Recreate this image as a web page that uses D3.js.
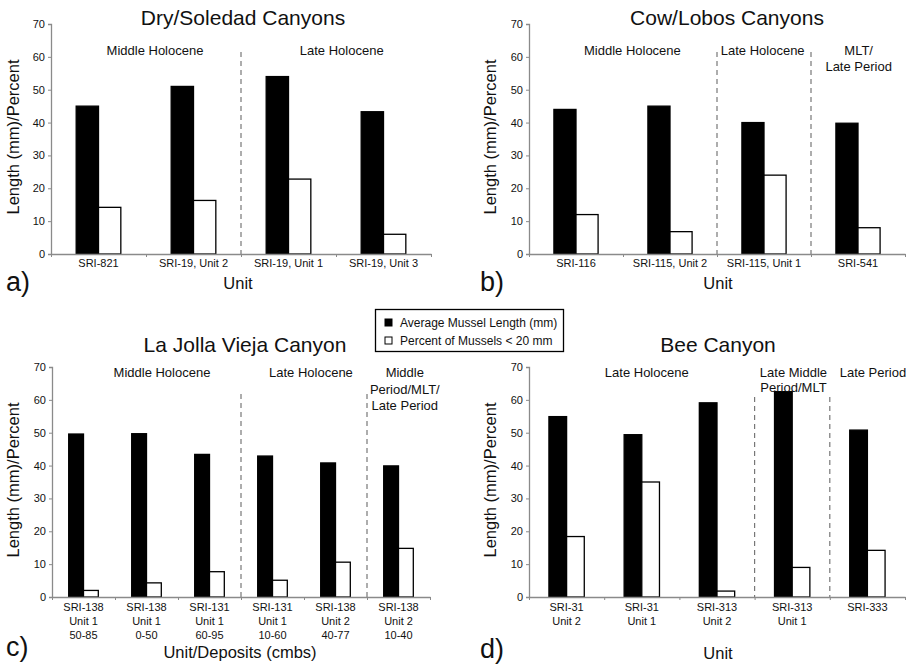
<!DOCTYPE html>
<html>
<head>
<meta charset="utf-8">
<script src="https://cdn.jsdelivr.net/npm/d3@7"></script>
<style>
  html, body { margin: 0; padding: 0; background: #fff; }
  svg { display: block; }
  text { font-family: "Liberation Sans", Arial, sans-serif; fill: #111; }
</style>
</head>
<body>
<svg id="chart" width="913" height="664"></svg>
<script>
// ---------------- DATA ----------------
const seriesNames = ["Average Mussel Length (mm)", "Percent of Mussels < 20 mm"];
const yTicks = [0, 10, 20, 30, 40, 50, 60, 70];

// a) Dry/Soledad Canyons
const dryCategories = [["SRI-821"], ["SRI-19, Unit 2"], ["SRI-19, Unit 1"], ["SRI-19, Unit 3"]];
const dryAvgLength = [45, 51, 54, 43.3];
const dryPercentSmall = [14.2, 16.3, 22.8, 6];
const dryPeriods = ["Middle Holocene", "Late Holocene"];

// b) Cow/Lobos Canyons
const cowCategories = [["SRI-116"], ["SRI-115, Unit 2"], ["SRI-115, Unit 1"], ["SRI-541"]];
const cowAvgLength = [44, 45, 40, 39.8];
const cowPercentSmall = [12, 6.8, 24, 8];
const cowPeriods = ["Middle Holocene", "Late Holocene", "MLT/\nLate Period"];

// c) La Jolla Vieja Canyon
const ljvCategories = [["SRI-138", "Unit 1", "50-85"], ["SRI-138", "Unit 1", "0-50"], ["SRI-131", "Unit 1", "60-95"],
                       ["SRI-131", "Unit 1", "10-60"], ["SRI-138", "Unit 2", "40-77"], ["SRI-138", "Unit 2", "10-40"]];
const ljvAvgLength = [49.6, 49.7, 43.4, 42.9, 40.8, 39.9];
const ljvPercentSmall = [2, 4.3, 7.7, 5.1, 10.6, 14.8];
const ljvPeriods = ["Middle Holocene", "Late Holocene", "Middle\nPeriod/MLT/\nLate Period"];

// d) Bee Canyon
const beeCategories = [["SRI-31", "Unit 2"], ["SRI-31", "Unit 1"], ["SRI-313", "Unit 2"], ["SRI-313", "Unit 1"], ["SRI-333"]];
const beeAvgLength = [54.9, 49.4, 59.1, 62.5, 50.8];
const beePercentSmall = [18.4, 35, 1.8, 9, 14.2];
const beePeriods = ["Late Holocene", "Late Middle\nPeriod/MLT", "Late Period"];

// ---------------- LAYOUT ----------------
const svg = d3.select("#chart");
const AXIS_COLOR = "#8a8a8a";

const panels = [
  { letter: "a)", title: "Dry/Soledad Canyons", cats: dryCategories, s1: dryAvgLength, s2: dryPercentSmall,
    periods: dryPeriods, periodPos: [1.095, 3.06], dividers: [2],
    left: 51, right: 431, top: 24, bottom: 254, titleX: 243, titleY: 25, periodY: 55, lineH: 16,
    dashTop: 52, xTitle: "Unit", xTitleX: 238, xTitleY: 289, letterX: 6, letterY: 291, yTitleX: 19, labelY: 267, labelLH: 14 },
  { letter: "b)", title: "Cow/Lobos Canyons", cats: cowCategories, s1: cowAvgLength, s2: cowPercentSmall,
    periods: cowPeriods, periodPos: [1.10, 2.486, 3.507], dividers: [2, 3],
    left: 529, right: 905, top: 24, bottom: 254, titleX: 727, titleY: 25, periodY: 55, lineH: 16,
    dashTop: 52, xTitle: "Unit", xTitleX: 718, xTitleY: 289, letterX: 480, letterY: 291, yTitleX: 496, labelY: 267, labelLH: 14 },
  { letter: "c)", title: "La Jolla Vieja Canyon", cats: ljvCategories, s1: ljvAvgLength, s2: ljvPercentSmall,
    periods: ljvPeriods, periodPos: [1.746, 4.11, 5.60], dividers: [3, 5],
    left: 52, right: 430, top: 367, bottom: 597, titleX: 245, titleY: 352, periodY: 377, lineH: 16.5,
    dashTop: 394, xTitle: "Unit/Deposits (cmbs)", xTitleX: 240, xTitleY: 658, letterX: 6, letterY: 656, yTitleX: 19, labelY: 611, labelLH: 14 },
  { letter: "d)", title: "Bee Canyon", cats: beeCategories, s1: beeAvgLength, s2: beePercentSmall,
    periods: beePeriods, periodPos: [1.566, 3.517, 4.574], dividers: [3, 4],
    left: 529, right: 905, top: 367, bottom: 597, titleX: 718, titleY: 352, periodY: 377, lineH: 14.5,
    dashTop: 397, xTitle: "Unit", xTitleX: 718, xTitleY: 659, letterX: 480, letterY: 658, yTitleX: 496, labelY: 611, labelLH: 14 }
];

panels.forEach(p => {
  const g = svg.append("g");
  const idx = d3.range(p.cats.length);
  const x = d3.scaleBand().domain(idx).range([p.left, p.right]).paddingInner(0).paddingOuter(0);
  const bw = x.bandwidth();
  const xs = d3.scaleBand().domain([0, 1]).range([bw * 0.265, bw * 0.735]).padding(0);
  const y = d3.scaleLinear().domain([0, 70]).range([p.bottom, p.top]);
  const xu = d3.scaleLinear().domain([0, p.cats.length]).range([p.left, p.right]);

  // dashed dividers
  g.selectAll("line.div").data(p.dividers).join("line")
    .attr("x1", d => xu(d)).attr("x2", d => xu(d))
    .attr("y1", p.dashTop).attr("y2", p.bottom)
    .attr("stroke", "#777").attr("stroke-width", 1.2).attr("stroke-dasharray", "5,4");

  // bars
  const rows = idx.map(i => ({ i, vals: [p.s1[i], p.s2[i]] }));
  const grp = g.selectAll("g.cat").data(rows).join("g").attr("transform", d => `translate(${x(d.i)},0)`);
  grp.selectAll("rect").data(d => d.vals.map((v, k) => ({ v, k }))).join("rect")
    .attr("x", d => xs(d.k)).attr("width", xs.bandwidth())
    .attr("y", d => y(d.v)).attr("height", d => y(0) - y(d.v))
    .attr("fill", d => d.k === 0 ? "#000" : "#fff")
    .attr("stroke", "#000").attr("stroke-width", 1.3);

  // y axis
  const ya = g.append("g").attr("transform", `translate(${p.left},0)`)
    .call(d3.axisLeft(y).tickValues(yTicks).tickSize(3).tickPadding(3).tickFormat(d3.format("d")));
  ya.select(".domain").attr("stroke", AXIS_COLOR).attr("stroke-width", 1.3);
  ya.selectAll(".tick line").attr("stroke", AXIS_COLOR);
  ya.selectAll(".tick text").style("font-size", "11px").style("font-family", "Liberation Sans, Arial, sans-serif").attr("fill", "#111");

  // x axis (boundary ticks)
  const xa = g.append("g").attr("transform", `translate(0,${p.bottom})`)
    .call(d3.axisBottom(xu).tickValues(d3.range(p.cats.length + 1)).tickSize(3).tickSizeOuter(0).tickFormat(""));
  xa.select(".domain").attr("stroke", AXIS_COLOR).attr("stroke-width", 1.3);
  xa.selectAll(".tick line").attr("stroke", AXIS_COLOR);

  // category labels
  g.selectAll("text.cat").data(idx).join("text")
    .attr("text-anchor", "middle").style("font-size", "11px")
    .attr("x", i => x(i) + bw / 2).attr("y", p.labelY)
    .selectAll("tspan").data(i => p.cats[i]).join("tspan")
    .attr("x", function () { return d3.select(this.parentNode).attr("x"); })
    .attr("dy", (d, k) => k === 0 ? 0 : p.labelLH)
    .text(d => d);

  // period labels
  p.periods.forEach((lab, j) => {
    const t = g.append("text").attr("text-anchor", "middle").style("font-size", "13px")
      .attr("x", xu(p.periodPos[j])).attr("y", p.periodY);
    lab.split("\n").forEach((ln, k) => {
      t.append("tspan").attr("x", xu(p.periodPos[j])).attr("dy", k === 0 ? 0 : p.lineH).text(ln);
    });
  });

  // title
  g.append("text").attr("x", p.titleX).attr("y", p.titleY).attr("text-anchor", "middle")
    .style("font-size", "21px").text(p.title);
  // x title
  g.append("text").attr("x", p.xTitleX).attr("y", p.xTitleY).attr("text-anchor", "middle")
    .style("font-size", "16.5px").text(p.xTitle);
  // y title
  g.append("text").attr("transform", `translate(${p.yTitleX},${(p.top + p.bottom) / 2 - 2}) rotate(-90)`)
    .attr("text-anchor", "middle").style("font-size", "16.5px").text("Length (mm)/Percent");
  // panel letter
  g.append("text").attr("x", p.letterX).attr("y", p.letterY).style("font-size", "27px").text(p.letter);
});

// ---------------- LEGEND ----------------
const lg = svg.append("g");
lg.append("rect").attr("x", 375.5).attr("y", 309.5).attr("width", 188).attr("height", 42)
  .attr("fill", "#fff").attr("stroke", "#000").attr("stroke-width", 1.3);
const legRows = lg.selectAll("g.lr").data(seriesNames).join("g")
  .attr("transform", (d, i) => `translate(385,${323 + i * 18})`);
legRows.append("rect").attr("x", 0).attr("y", -4).attr("width", 7).attr("height", 7)
  .attr("fill", (d, i) => i === 0 ? "#000" : "#fff").attr("stroke", "#000").attr("stroke-width", 1);
legRows.append("text").attr("x", 15).attr("y", 4).style("font-size", "12px").text(d => d);
</script>
</body>
</html>
